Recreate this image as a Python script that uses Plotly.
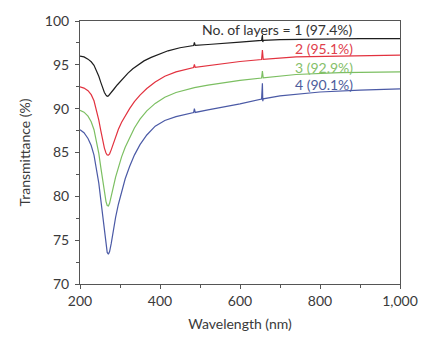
import plotly.graph_objects as go

# Transmittance spectra of stacked layers (wavelength in nm, transmittance in %)
wl_black = [200, 210, 220, 228, 235, 241, 247, 252, 257, 261, 265, 268, 271, 275, 280, 286, 293, 300, 310, 320, 332,
            345, 360, 378, 398, 420, 450, 484, 486, 488, 520, 550, 600, 654, 656, 657, 658, 700, 800, 900, 1000]
t_black = [96.0, 95.9, 95.65, 95.35, 94.95, 94.4, 93.7, 93.0, 92.3, 91.85, 91.55, 91.42, 91.45, 91.65, 91.95, 92.3,
           92.7, 93.05, 93.6, 94.05, 94.55, 95.0, 95.45, 95.85, 96.25, 96.6, 96.95, 97.2, 97.55, 97.22, 97.32, 97.4,
           97.6, 97.78, 98.4, 97.6, 97.8, 97.88, 97.95, 98.0, 98.0]

wl_red = [200, 210, 220, 228, 235, 241, 247, 252, 257, 261, 265, 268, 271, 274, 278, 283, 289, 296, 304, 313, 324,
          336, 350, 367, 388, 412, 440, 484, 486, 488, 520, 550, 600, 654, 656, 658, 740, 850, 1000]
t_red = [92.5, 92.35, 92.05, 91.6, 90.9, 89.95, 88.7, 87.5, 86.3, 85.5, 84.95, 84.72, 84.7, 84.85, 85.3, 86.0, 86.85,
         87.65, 88.45, 89.2, 90.0, 90.8, 91.55, 92.3, 93.05, 93.7, 94.2, 94.7, 95.05, 94.72, 94.92, 95.1, 95.38, 95.6,
         96.7, 95.62, 95.9, 96.0, 96.1]

wl_green = [200, 210, 220, 228, 235, 241, 247, 252, 257, 261, 265, 268, 271, 274, 278, 283, 289, 296, 304, 313, 324,
            336, 350, 367, 388, 412, 440, 486, 520, 550, 600, 654, 656, 658, 740, 850, 1000]
t_green = [89.8, 89.6, 89.15, 88.5, 87.6, 86.4, 84.9, 83.3, 81.6, 80.3, 79.4, 78.95, 78.9, 79.2, 79.9, 81.0, 82.2,
           83.35, 84.5, 85.6, 86.75, 87.8, 88.8, 89.75, 90.6, 91.3, 91.85, 92.4, 92.68, 92.9, 93.22, 93.5, 94.3, 93.52,
           93.9, 94.1, 94.2]

wl_blue = [200, 210, 220, 228, 235, 241, 247, 252, 257, 261, 265, 268, 271, 274, 278, 283, 289, 296, 304, 313, 324,
           336, 350, 367, 388, 412, 440, 484, 486, 488, 520, 550, 600, 654, 656, 657, 658, 700, 800, 900, 1000]
t_blue = [87.6, 87.25, 86.6, 85.8, 84.7, 83.3, 81.5, 79.6, 77.5, 75.8, 74.4, 73.6, 73.4, 73.7, 74.6, 76.0, 77.6,
          79.1, 80.6, 82.0, 83.4, 84.7, 85.9, 87.0, 88.0, 88.65, 89.1, 89.55, 90.0, 89.57, 89.86, 90.1, 90.55, 91.1,
          92.9, 90.85, 91.12, 91.45, 91.9, 92.12, 92.25]

layer_labels = ["No. of layers = 1 (97.4%)", "2 (95.1%)", "3 (92.9%)", "4 (90.1%)"]
label_y = [99.0, 96.85, 94.7, 92.8]

x_tickvals = [200, 400, 600, 800, 1000]
x_ticktext = ["200", "400", "600", "800", "1,000"]
y_tickvals = [70, 75, 80, 85, 90, 95, 100]

line_colors = ["#1e1e1e", "#e2323f", "#7cbf62", "#4b5aa6"]
text_colors = ["#333333", "#e0404c", "#86c06a", "#4e5d9c"]

fig = go.Figure()
for wl, t, c in zip([wl_black, wl_red, wl_green, wl_blue], [t_black, t_red, t_green, t_blue], line_colors):
    fig.add_trace(go.Scatter(x=wl, y=t, mode="lines", line=dict(color=c, width=1.2),
                             showlegend=False, hoverinfo="skip"))

for txt, y, c in zip(layer_labels, label_y, text_colors):
    fig.add_annotation(x=887, y=y, text=txt, showarrow=False, xanchor="right", yanchor="middle",
                       font=dict(family="Lato", size=14, color=c))

axis_common = dict(
    showline=True, linecolor="#555555", linewidth=1, mirror=True,
    ticks="outside", ticklen=4, tickcolor="#555555", tickwidth=1,
    showgrid=False, zeroline=False,
    tickfont=dict(family="Lato", size=14, color="#3a3a3a"),
    title_font=dict(family="Lato", size=14, color="#3a3a3a"),
)

fig.update_xaxes(range=[200, 1000], tickvals=x_tickvals, ticktext=x_ticktext,
                 minor=dict(dtick=100, ticks="outside", ticklen=3, tickcolor="#555555"),
                 title_text="Wavelength (nm)", title_standoff=11, **axis_common)
fig.update_yaxes(range=[70, 100], tickvals=y_tickvals,
                 minor=dict(dtick=2.5, ticks="outside", ticklen=3, tickcolor="#555555"),
                 title_text="Transmittance (%)", title_standoff=10, ticklabelstandoff=3,
                 **axis_common)

fig.update_layout(width=430, height=342, margin=dict(l=80, r=24, t=13, b=54),
                  paper_bgcolor="white", plot_bgcolor="white")

fig.write_html("out.html")
